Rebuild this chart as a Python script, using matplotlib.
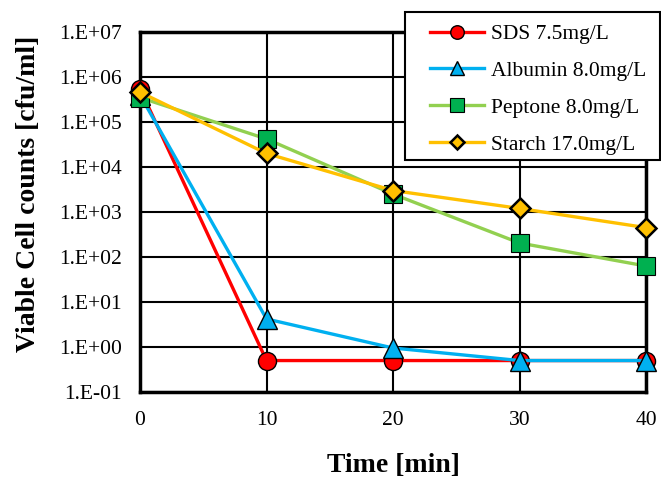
import matplotlib.pyplot as plt
import numpy as np
from matplotlib.ticker import FixedLocator, FuncFormatter
from matplotlib.patches import Rectangle

plt.rcParams['font.family'] = ['Liberation Serif', 'DejaVu Serif']

# data
time_min = [0, 10, 20, 30, 40]
sds = [5.5e5, 0.5, 0.5, 0.5, 0.5]
albumin = [4.0e5, 4.2, 0.95, 0.5, 0.5]
peptone = [3.5e5, 4.2e4, 2.5e3, 2.05e2, 63]
starch = [4.6e5, 2.0e4, 3.0e3, 1.2e3, 450]

# label, values, line colour, marker, face colour, size, edge width
series = [
    ('SDS 7.5mg/L', sds, '#FF0000', 'o', '#FF0000', 13, 1.0),
    ('Albumin 8.0mg/L', albumin, '#00B0F0', '^', '#00B0F0', 14, 1.0),
    ('Peptone 8.0mg/L', peptone, '#92D050', 's', '#00B050', 13, 0.8),
    ('Starch 17.0mg/L', starch, '#FFC000', 'D', '#FFC000', 10, 1.8),
]

fig = plt.figure(figsize=(6.61, 4.79), dpi=100)
ax = fig.add_axes([140 / 661, 1 - 392 / 479, 506 / 661, 360 / 479])

handles = []
for label, vals, lc, mk, mfc, ms, mew in series:
    h, = ax.plot(time_min, vals, color=lc, lw=2.4, marker=mk, markersize=ms,
                 markerfacecolor=mfc, markeredgecolor='black', markeredgewidth=mew,
                 label=label, clip_on=False, zorder=3)
    handles.append(h)

ax.set_yscale('log')
ax.set_ylim(1e-1, 1e7)
ax.set_xlim(0, 40)
ax.xaxis.set_major_locator(FixedLocator([0, 10, 20, 30, 40]))
ax.yaxis.set_major_locator(FixedLocator([10.0 ** e for e in range(-1, 8)]))
ax.yaxis.set_minor_locator(FixedLocator([]))
ax.yaxis.set_major_formatter(FuncFormatter(lambda v, p: '1.E%+03d' % int(round(np.log10(v)))))

ax.grid(True, which='major', color='black', lw=1.5)
ax.set_axisbelow(True)
for s in ax.spines.values():
    s.set_linewidth(2.5)
ax.tick_params(length=0, labelsize=15.5)
ax.tick_params(axis='y', pad=13)
ax.tick_params(axis='x', pad=14)

ax.set_xlabel('Time [min]', fontsize=20, fontweight='bold')
ax.xaxis.set_label_coords(0.5, -0.17)
ax.set_ylabel('Viable Cell counts [cfu/ml]', fontsize=20, fontweight='bold')
ax.yaxis.set_label_coords(-0.195, 0.55)

# legend box
box = Rectangle((405 / 661, 1 - 160 / 479), 255 / 661, 148 / 479,
                transform=fig.transFigure, facecolor='white', edgecolor='black',
                lw=1.5, zorder=4)
fig.add_artist(box)
leg = fig.legend(handles=handles, loc='upper left', bbox_to_anchor=(430 / 661, 1 - 24 / 479),
                 bbox_transform=fig.transFigure, fontsize=15.5, frameon=False,
                 handlelength=2.5, handletextpad=0.35, borderpad=0, borderaxespad=0,
                 labelspacing=0.78, markerscale=0.75)
leg.set_zorder(5)

plt.savefig("out.png")
